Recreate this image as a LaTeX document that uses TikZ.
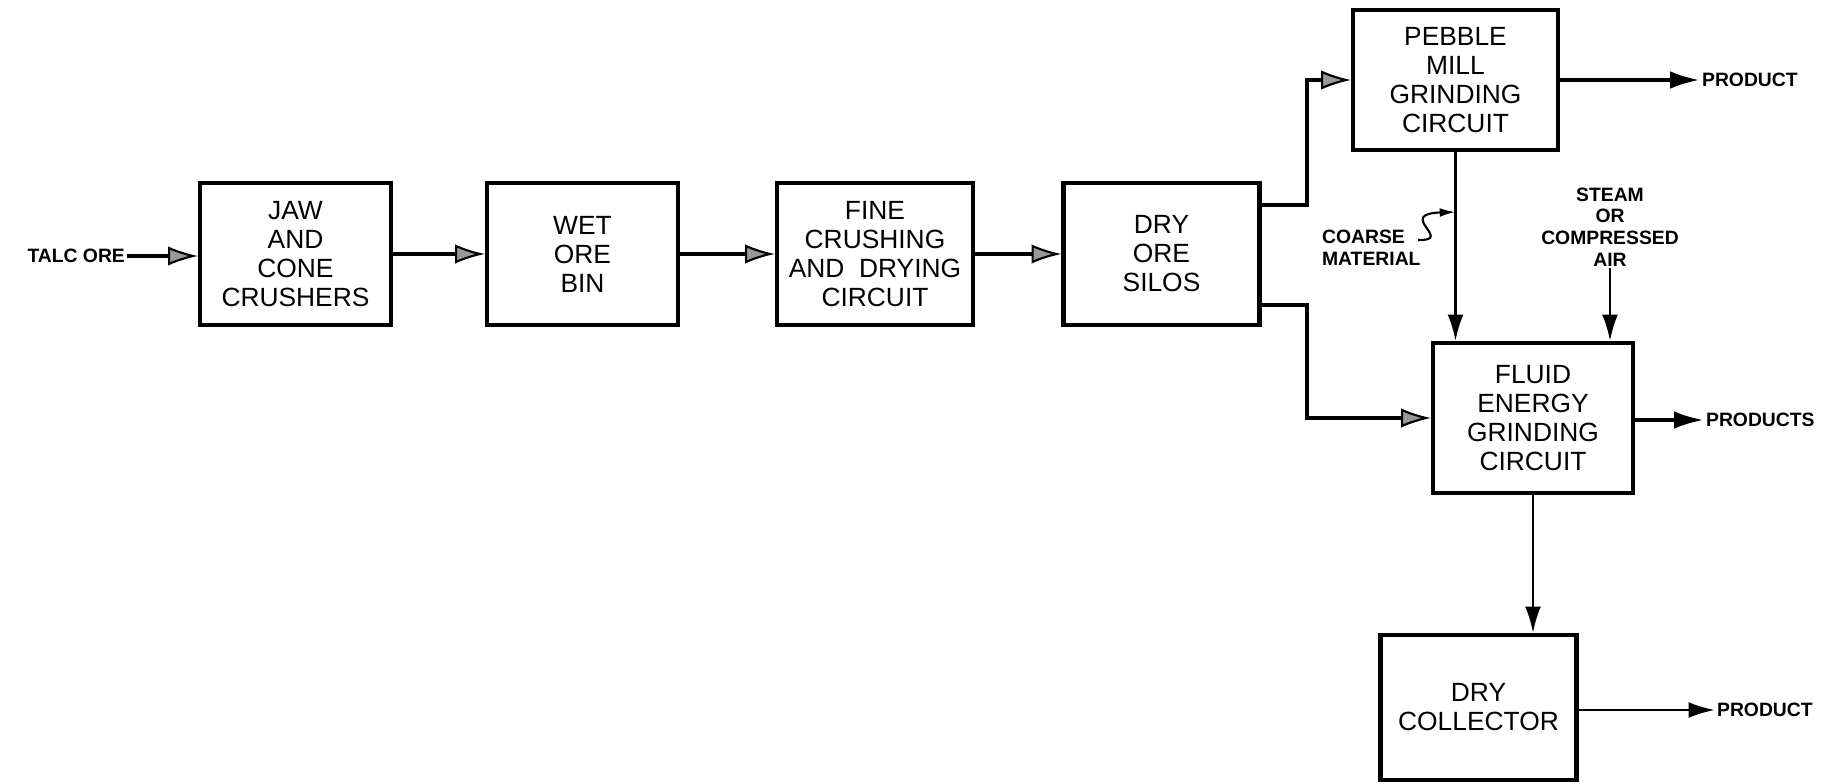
\documentclass[tikz,border=0pt]{standalone}
\usepackage{fontspec}
\setmainfont{Liberation Sans}
\usetikzlibrary{arrows.meta,positioning,calc}

\begin{document}
\begin{tikzpicture}[
  stage/.style={draw,line width=2.3pt,minimum width=3.92cm,minimum height=2.85cm,
    align=center,inner sep=0pt,font=\fontsize{15}{16.5}\selectfont},
  lbl/.style={inner sep=1pt,font=\bfseries\fontsize{11}{12.3}\selectfont},
  feed/.style={line width=2.8pt,-{Latex[open,fill=black!40,length=17pt,width=11pt,line width=1.2pt]}},
  outp/.style={line width=2.3pt,-{Latex[length=17pt,width=10pt]}},
  thinarr/.style={line width=1.4pt,-{Latex[length=15pt,width=9pt]}}]
  \useasboundingbox (0,0) rectangle (36.76,15.66);
  % main line
  \node[stage,minimum width=3.82cm] (jaw) at (5.91,10.58) {JAW\\AND\\CONE\\CRUSHERS};
  \node[stage,minimum width=3.82cm] (wet) at (11.65,10.58) {WET\\ORE\\BIN};
  \node[stage] (fine) at (17.50,10.58) {FINE\\CRUSHING\\AND~~DRYING\\CIRCUIT};
  \node[stage] (silos) at (23.23,10.58) {DRY\\ORE\\SILOS};
  % grinding
  \node[stage,minimum width=4.1cm,minimum height=2.8cm] (pebble) at (29.11,14.06) {PEBBLE\\MILL\\GRINDING\\CIRCUIT};
  \node[stage,minimum width=4.0cm,minimum height=3.0cm] (fluid) at (30.66,7.30) {FLUID\\ENERGY\\GRINDING\\CIRCUIT};
  \node[stage,minimum height=2.9cm] (coll) at (29.57,1.51) {DRY\\COLLECTOR};
  % labels
  \node[lbl,anchor=east] (talc) at (2.54,10.54) {TALC ORE};
  \node[lbl,anchor=west] (prod1) at (34.0,14.06) {PRODUCT};
  \node[lbl,anchor=west] (prod2) at (34.08,7.26) {PRODUCTS};
  \node[lbl,anchor=west] (prod3) at (34.3,1.46) {PRODUCT};
  \node[lbl,align=left,anchor=west] (coarse) at (26.4,10.70) {COARSE\\MATERIAL};
  \node[lbl,align=center] (steam) at (32.2,11.12) {STEAM\\OR\\COMPRESSED\\AIR};
  \coordinate (up) at (26.14,11.56);
  \coordinate (dn) at (26.14,9.56);
  \coordinate (sq) at (28.36,10.86);
  \coordinate (hook) at (pebble.south |- 0,11.42);
  % flow
  \draw[feed] (talc.east) -- (talc.east -| jaw.west);
  \draw[feed] (jaw) -- (wet);
  \draw[feed] (wet) -- (fine);
  \draw[feed] (fine) -- (silos);
  \draw[feed] (silos.east |- up) -- (up) |- (pebble.west);
  \draw[feed] (silos.east |- dn) -- (dn) |- (fluid.west);
  \draw[outp] (pebble.east |- prod1) -- (prod1.west);
  \draw[outp] (fluid.east |- prod2) -- (prod2.west);
  \draw[thinarr] (coll.east |- prod3) -- (prod3.west);
  \draw[thinarr] (pebble.south) -- (pebble.south |- fluid.north);
  \draw[thinarr] (steam.south) -- (steam.south |- fluid.north);
  \draw[thinarr] (fluid.south) -- (fluid.south |- coll.north);
  \draw[line width=1.2pt,-{Latex[length=9pt,width=5pt]}] (sq) .. controls (29.1,10.84) and (27.9,11.38) .. (hook);
\end{tikzpicture}
\end{document}
